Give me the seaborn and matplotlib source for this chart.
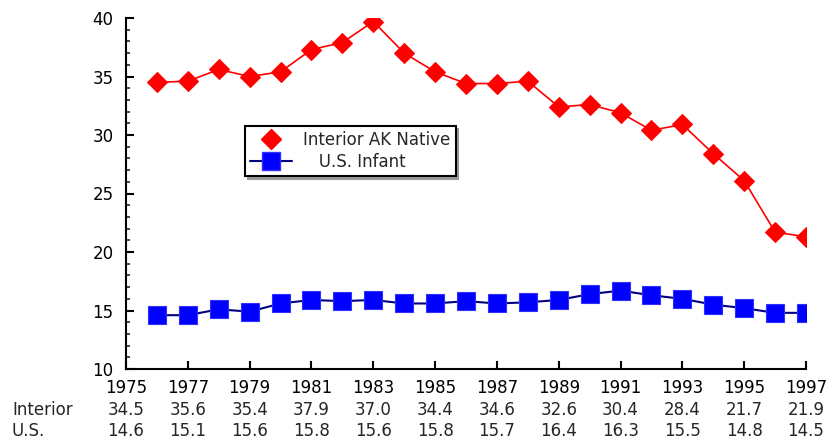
import numpy as np
import pandas as pd
import matplotlib
matplotlib.use("Agg")
import matplotlib.pyplot as plt
from matplotlib.lines import Line2D
import seaborn as sns

# Plotted series (one point per year position)
plot_years = list(range(1976, 1998))
interior = [34.5, 34.6, 35.6, 35.0, 35.4, 37.3, 37.9, 39.7, 37.0, 35.4, 34.4,
            34.4, 34.6, 32.4, 32.6, 31.9, 30.4, 30.9, 28.4, 26.1, 21.7, 21.3]
us_infant = [14.6, 14.6, 15.1, 14.9, 15.6, 15.9, 15.8, 15.9, 15.6, 15.6, 15.8,
             15.6, 15.7, 15.9, 16.4, 16.7, 16.3, 16.0, 15.5, 15.2, 14.8, 14.8]

# Table printed under the axis
table_years = [1975, 1977, 1979, 1981, 1983, 1985, 1987, 1989, 1991, 1993, 1995, 1997]
table_interior = [34.5, 35.6, 35.4, 37.9, 37.0, 34.4, 34.6, 32.6, 30.4, 28.4, 21.7, 21.9]
table_us = [14.6, 15.1, 15.6, 15.8, 15.6, 15.8, 15.7, 16.4, 16.3, 15.5, 14.8, 14.5]

df = pd.DataFrame({"year": plot_years, "interior": interior, "us": us_infant})

sns.set_style("ticks")
plt.rcParams["font.family"] = ["DejaVu Sans"]
fs = 12

fig = plt.figure(figsize=(8.29, 4.41), dpi=100)
ax = fig.add_axes([126 / 829, 1 - 369 / 441, (806 - 126) / 829, (369 - 18) / 441])

sns.lineplot(data=df, x="year", y="interior", ax=ax, color="#ff0000", lw=1.2,
             marker="D", markersize=10, markeredgecolor="#ff0000")
sns.lineplot(data=df, x="year", y="us", ax=ax, color="#000080", lw=1.5,
             marker="s", markersize=13, markerfacecolor="#0000ff",
             markeredgecolor="#3030ff", markeredgewidth=0.8)

ax.set_xlim(1975, 1997)
ax.set_ylim(10, 40)
ax.set_yticks(range(10, 41, 5))
ax.set_yticks(range(10, 41), minor=True)
ax.set_xticks(table_years)
ax.set_xticklabels([str(y) for y in table_years])
ax.set_xlabel("")
ax.set_ylabel("")
sns.despine(ax=ax)
for s in ["left", "bottom"]:
    ax.spines[s].set_linewidth(1.5)
    ax.spines[s].set_color("black")
ax.tick_params(axis="both", which="major", direction="in", length=6, width=1.5,
               labelsize=fs, colors="black")
ax.tick_params(axis="y", which="minor", direction="in", length=3, width=1.2)
ax.tick_params(axis="y", which="major", pad=9)
ax.tick_params(axis="x", which="major", pad=7.5)

# value rows under the years
for yr, vi, vu in zip(table_years, table_interior, table_us):
    ax.annotate(f"{vi:.1f}", xy=(yr, 0), xycoords=("data", "axes fraction"),
                xytext=(0, -41 / 1.389), textcoords="offset points",
                ha="center", va="center", fontsize=fs)
    ax.annotate(f"{vu:.1f}", xy=(yr, 0), xycoords=("data", "axes fraction"),
                xytext=(0, -62 / 1.389), textcoords="offset points",
                ha="center", va="center", fontsize=fs)
fig.text(12 / 829, 1 - 410 / 441, "Interior", ha="left", va="center", fontsize=fs)
fig.text(12 / 829, 1 - 431 / 441, "U.S.", ha="left", va="center", fontsize=fs)

handles = [
    Line2D([], [], color="#ff0000", lw=0, marker="D", markersize=10),
    Line2D([], [], color="#000080", lw=1.5, marker="s", markersize=13,
           markerfacecolor="#0000ff", markeredgecolor="#3030ff"),
]
leg = ax.legend(handles, ["Interior AK Native", "   U.S. Infant"],
                loc="upper left", bbox_to_anchor=((245 - 126) / 680, (369 - 126) / 351),
                borderaxespad=0, fontsize=fs, frameon=True, fancybox=False,
                handlelength=2.5, handletextpad=0.7, labelspacing=0.25,
                borderpad=0.3, shadow={"color": "0.6", "alpha": 1})
leg.get_frame().set_edgecolor("black")
leg.get_frame().set_linewidth(1.5)

fig.savefig("out.png", dpi=100)
